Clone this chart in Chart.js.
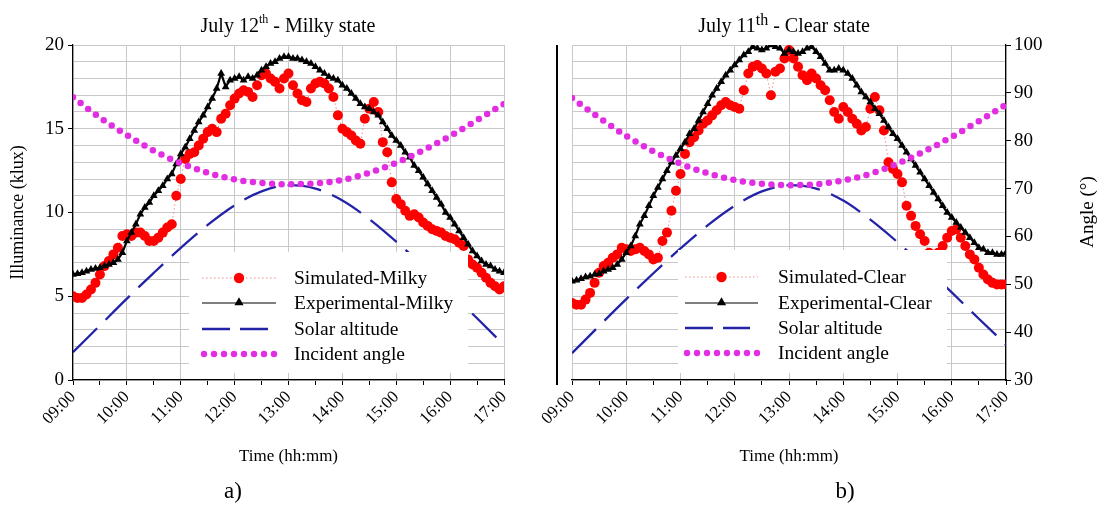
<!DOCTYPE html>
<html>
<head>
<meta charset="utf-8">
<script src="https://cdn.jsdelivr.net/npm/chart.js@4.4.1/dist/chart.umd.min.js"></script>
<style>
html,body{margin:0;padding:0;background:#fff;width:1104px;height:506px;overflow:hidden;font-family:"Liberation Serif","Times New Roman",serif;}
canvas{position:absolute;top:0;}
#c1{left:0;}
#c2{left:510px;}
.sub{position:absolute;top:477px;width:40px;text-align:center;font-size:23px;color:#000;line-height:28px;}
#divider{position:absolute;left:556px;top:45px;width:1.5px;height:340px;background:#000;}
</style>
</head>
<body>
<canvas id="c1" width="550" height="506" style="width:550px;height:506px"></canvas>
<canvas id="c2" width="594" height="506" style="width:594px;height:506px"></canvas>
<div id="divider"></div>
<div class="sub" style="left:213px">a)</div>
<div class="sub" style="left:825px">b)</div>
<script>
// ---------------- DATA ----------------
// Illuminance (klux), one reading every 5 minutes from 09:00 to 17:00
const STEP_MIN = 5;
const EXP_MILKY = [
  6.3,6.35,6.4,6.5,6.6,6.65,6.7,6.8,6.9,7.0,7.2,7.6,
  8.3,8.8,9.3,9.9,10.3,10.6,11.0,11.3,11.6,12.0,12.3,12.9,
  13.5,13.9,14.4,14.9,15.4,15.8,16.3,16.8,17.4,18.3,17.5,17.9,
  18.0,18.1,17.9,18.1,18.0,18.2,18.5,18.7,18.9,19.0,19.2,19.3,
  19.3,19.2,19.2,19.1,19.0,18.9,18.7,18.5,18.3,18.1,18.0,17.9,
  17.6,17.4,17.1,16.8,16.5,16.3,16.2,16.0,15.8,15.4,15.0,14.6,
  14.3,14.0,13.6,13.3,12.8,12.5,12.1,11.7,11.3,10.9,10.5,10.0,
  9.7,9.3,8.9,8.5,8.1,7.7,7.4,7.1,6.9,6.8,6.6,6.5,
  6.4
];
const SIM_MILKY = [
  5.0,4.9,4.9,5.1,5.4,5.8,6.3,6.8,7.1,7.5,7.9,8.6,
  8.7,8.6,8.8,8.8,8.6,8.3,8.3,8.5,8.8,9.1,9.3,11.0,
  12.0,13.2,13.5,13.6,14.0,14.4,14.8,15.0,14.8,15.6,15.9,16.4,
  16.8,17.1,17.3,17.2,16.9,17.6,18.2,18.3,18.0,17.8,17.4,18.0,
  18.3,17.6,17.1,16.7,16.6,17.4,17.7,17.8,17.7,17.4,16.9,15.8,
  15.0,14.8,14.6,14.3,14.1,15.6,16.2,16.6,16.0,14.2,13.6,11.8,
  10.8,10.5,10.1,9.8,9.9,9.7,9.4,9.2,9.0,8.9,8.8,8.6,
  8.5,8.4,8.2,8.0,7.2,6.9,6.7,6.4,6.1,5.8,5.6,5.4,
  5.6
];
const EXP_CLEAR = [
  5.9,5.95,6.05,6.15,6.2,6.3,6.35,6.5,6.6,6.7,6.9,7.2,
  7.6,8.0,8.6,9.3,9.8,10.4,11.0,11.5,12.0,12.5,13.0,13.4,
  13.8,14.2,14.7,15.0,15.5,16.0,16.5,17.0,17.4,17.8,18.2,18.5,
  18.8,19.1,19.4,19.6,19.9,19.8,19.7,19.8,20.0,19.9,19.8,19.5,
  19.7,19.6,19.5,19.6,19.8,19.9,19.6,19.3,18.9,18.5,18.5,18.6,
  18.5,18.3,18.0,17.6,17.2,16.9,16.6,16.2,15.9,15.5,15.1,14.7,
  14.4,14.0,13.6,13.2,12.8,12.4,12.0,11.6,11.2,10.8,10.4,10.0,
  9.7,9.4,9.1,8.8,8.5,8.2,7.9,7.8,7.6,7.6,7.5,7.5,
  7.6
];
const SIM_CLEAR = [
  4.6,4.5,4.5,4.8,5.2,5.8,6.4,6.8,7.0,7.3,7.5,7.9,
  7.8,7.7,7.8,7.9,7.7,7.5,7.2,7.3,8.3,8.8,10.1,11.3,
  12.3,13.5,14.2,14.5,14.9,15.3,15.5,15.8,16.1,16.4,16.6,16.4,
  16.3,16.2,17.3,18.3,18.7,18.8,18.6,18.3,17.0,18.4,18.6,19.2,
  19.7,19.2,18.7,18.2,17.9,18.3,18.0,17.6,17.3,16.7,16.0,15.6,
  16.3,16.0,15.6,15.3,14.9,15.1,16.2,16.9,16.1,14.9,13.0,12.6,
  12.3,11.8,10.4,9.8,9.2,8.7,8.3,7.6,7.4,7.6,8.0,8.5,
  8.9,9.0,8.5,8.0,7.5,7.2,6.7,6.3,6.0,5.8,5.7,5.7,
  5.7
];
// Angles (degrees), one value every 30 minutes from 09:00 to 17:00
const ANGLE_STEP_MIN = 30;
const ALT_MILKY = [35.8,41.4,47.0,52.4,57.6,62.4,66.5,69.4,70.7,70.0,67.5,63.6,58.9,53.8,48.4,42.9,37.3];
const INC_MILKY = [89.1,84.8,81.2,77.9,75.3,73.3,71.9,71.2,70.9,71.1,71.8,73.3,75.4,78.0,81.0,84.3,87.7];
const ALT_CLEAR = [35.6,41.3,46.9,52.3,57.5,62.3,66.4,69.4,70.7,70.0,67.5,63.5,58.8,53.7,48.3,42.8,37.4];
const INC_CLEAR = [88.9,84.8,81.0,77.8,75.2,73.2,71.8,71.0,70.7,70.9,71.7,73.1,75.2,77.8,80.8,84.1,87.5];
const HOUR_LABELS = ['09:00','10:00','11:00','12:00','13:00','14:00','15:00','16:00','17:00'];
const LUX_TICKS = [0,5,10,15,20];
const ANGLE_TICKS = [30,40,50,60,70,80,90,100];

// ---------------- HELPERS ----------------
const FONT = '"Liberation Serif", "Times New Roman", serif';
Chart.defaults.font.family = FONT;
Chart.defaults.color = '#000';

function toPoints(arr, stepMin) {
  return arr.map((v, i) => ({x: 9 + i * stepMin / 60, y: v}));
}
const isInt = v => Math.abs(v - Math.round(v)) < 1e-6;

const C_RED = '#ff0000', C_BLUE = '#2323a8', C_MAG = '#e22ee2', C_GRID = '#c8c8c8';

function datasets(alt, inc, exp, sim) {
  return [
    {label:'Incident angle', data: toPoints(inc, ANGLE_STEP_MIN), yAxisID:'y2',
      borderColor:C_MAG, borderWidth:6.5, borderDash:[0,9.6], borderCapStyle:'round',
      pointRadius:0, cubicInterpolationMode:'monotone', fill:false},
    {label:'Solar altitude', data: toPoints(alt, ANGLE_STEP_MIN), yAxisID:'y2',
      borderColor:C_BLUE, borderWidth:2.3, borderDash:[34,12],
      pointRadius:0, cubicInterpolationMode:'monotone', fill:false},
    {label:'Experimental', data: toPoints(exp, STEP_MIN), yAxisID:'y',
      borderColor:'#000', borderWidth:2.2, pointStyle:'triangle', pointRadius:4.5,
      pointBackgroundColor:'#000', pointBorderColor:'#000', pointBorderWidth:0, tension:0},
    {label:'Simulated', data: toPoints(sim, STEP_MIN), yAxisID:'y',
      borderColor:'#f08a8a', borderWidth:1, borderDash:[1.5,2.5], pointStyle:'circle', pointRadius:5,
      pointBackgroundColor:C_RED, pointBorderColor:C_RED, pointBorderWidth:0, tension:0}
  ];
}

function drawPt(ctx, style, r, x, y, color) {
  ctx.save();
  ctx.fillStyle = color;
  ctx.beginPath();
  if (style === 'circle') {
    ctx.arc(x, y, r, 0, Math.PI * 2);
  } else {
    ctx.moveTo(x, y - r * 1.15);
    ctx.lineTo(x + r * 1.1, y + r * 0.75);
    ctx.lineTo(x - r * 1.1, y + r * 0.75);
    ctx.closePath();
  }
  ctx.fill();
  ctx.restore();
}

function drawRich(ctx, cx, baseline, parts) {
  ctx.save();
  ctx.textBaseline = 'alphabetic';
  ctx.textAlign = 'left';
  ctx.fillStyle = '#000';
  let total = 0;
  parts.forEach(p => { ctx.font = p.s + 'px ' + FONT; p.w = ctx.measureText(p.t).width; total += p.w; });
  let x = cx - total / 2;
  parts.forEach(p => { ctx.font = p.s + 'px ' + FONT; ctx.fillText(p.t, x, baseline + (p.dy || 0)); x += p.w; });
  ctx.restore();
}

const decor = {
  id: 'decor',
  afterDatasetsDraw(chart, args, o) {
    const ctx = chart.ctx;
    const L = o.legend;
    ctx.save();
    ctx.fillStyle = '#fff';
    ctx.fillRect(L.x, L.y, L.w, L.h);
    const rows = L.rows;
    const xm = (L.x1 + L.x2) / 2;
    // Simulated
    ctx.save();
    ctx.strokeStyle = '#f08a8a'; ctx.lineWidth = 1; ctx.setLineDash([1.5,2.5]);
    ctx.beginPath(); ctx.moveTo(L.x1, rows[0]); ctx.lineTo(L.x2, rows[0]); ctx.stroke();
    ctx.restore();
    drawPt(ctx, 'circle', 5.2, xm, rows[0], C_RED);
    // Experimental
    ctx.save();
    ctx.strokeStyle = '#000'; ctx.lineWidth = 1.2;
    ctx.beginPath(); ctx.moveTo(L.x1, rows[1]); ctx.lineTo(L.x2, rows[1]); ctx.stroke();
    ctx.restore();
    drawPt(ctx, 'triangle', 4.2, xm, rows[1] - 1, '#000');
    // Solar altitude
    ctx.save();
    ctx.strokeStyle = C_BLUE; ctx.lineWidth = 2.4; ctx.setLineDash([28,10]);
    ctx.beginPath(); ctx.moveTo(L.x1, rows[2]); ctx.lineTo(L.x2 - 8, rows[2]); ctx.stroke();
    ctx.restore();
    // Incident angle
    ctx.save();
    ctx.fillStyle = C_MAG;
    for (let i = 0; i < 8; i++) {
      ctx.beginPath(); ctx.arc(L.x1 + 2 + i * 10, rows[3], 3.2, 0, Math.PI * 2); ctx.fill();
    }
    ctx.restore();
    ctx.font = L.font + 'px ' + FONT;
    ctx.fillStyle = '#000';
    ctx.textBaseline = 'middle';
    ctx.textAlign = 'left';
    L.labels.forEach((t, i) => ctx.fillText(t, L.tx, rows[i] + 1));
    ctx.restore();
  },
  afterDraw(chart, args, o) {
    const ctx = chart.ctx;
    drawRich(ctx, o.titleX, 32, o.title);
    if (o.rightTitle) {
      ctx.save();
      ctx.translate(o.rightTitle.x, o.rightTitle.y);
      ctx.rotate(-Math.PI / 2);
      ctx.font = o.rightTitle.s + 'px ' + FONT;
      ctx.fillStyle = '#000';
      ctx.textAlign = 'center';
      ctx.textBaseline = 'middle';
      ctx.fillText(o.rightTitle.t, 0, 0);
      ctx.restore();
    }
  }
};

function xScale() {
  return {
    type:'linear', min:9, max:17,
    ticks:{stepSize:0.5, autoSkip:false, maxRotation:45, minRotation:45, padding:2,
      font:{size:17}, color:'#000',
      callback: v => isInt(v) ? HOUR_LABELS[Math.round(v) - 9] : ''},
    grid:{color: c => (c.tick && isInt(c.tick.value)) ? C_GRID : 'rgba(0,0,0,0)',
      tickColor:'#000', tickLength:5, lineWidth:1},
    border:{color:'#000', width:1.2},
    title:{display:true, text:'Time (hh:mm)', font:{size:17}, padding:{top:0,bottom:0}, color:'#000'},
    afterFit: s => { s.height = 87; s.paddingLeft = 0; s.paddingRight = 0; }
  };
}

function makeChart(id, opts) {
  return new Chart(document.getElementById(id), {
    type:'line',
    data:{datasets: opts.datasets},
    options:{
      responsive:false, animation:false, devicePixelRatio:1, events:[],
      layout:{padding:opts.padding},
      scales:{x: xScale(), y: opts.y, y2: opts.y2},
      plugins:{legend:{display:false}, tooltip:{enabled:false}, title:{display:false},
        decor: opts.decor}
    },
    plugins:[decor]
  });
}

// ---------------- LEFT CHART (Milky) ----------------
makeChart('c1', {
  datasets: datasets(ALT_MILKY, INC_MILKY, EXP_MILKY, SIM_MILKY),
  padding:{left:0, right:46, top:45, bottom:39},
  y:{type:'linear', position:'left', min:0, max:20,
    ticks:{stepSize:1, autoSkip:false, padding:4, font:{size:19}, color:'#000',
      callback: v => LUX_TICKS.includes(v) ? String(v) : ''},
    grid:{color:C_GRID, tickLength:5, tickColor: c => (c.tick && LUX_TICKS.includes(c.tick.value)) ? '#000' : 'rgba(0,0,0,0)'},
    border:{color:'#000', width:1.2},
    title:{display:true, text:'Illuminance (klux)', font:{size:18}, padding:{top:7,bottom:0}, color:'#000'},
    afterFit: s => { s.width = 73; s.paddingTop = 0; s.paddingBottom = 0; }
  },
  y2:{type:'linear', position:'right', min:30, max:100, display:false},
  decor:{
    titleX: 288, title:[{t:'July 12', s:20}, {t:'th', s:12, dy:-9}, {t:' - Milky state', s:20}],
    legend:{x:189, y:252, w:279, h:121, x1:202, x2:276, tx:294, font:19.5,
      rows:[278,303,329,354],
      labels:['Simulated-Milky','Experimental-Milky','Solar altitude','Incident angle']}
  }
});

// ---------------- RIGHT CHART (Clear) ----------------
// canvas origin is at page x = 510
makeChart('c2', {
  datasets: datasets(ALT_CLEAR, INC_CLEAR, EXP_CLEAR, SIM_CLEAR),
  padding:{left:0, right:0, top:45, bottom:39},
  y:{type:'linear', position:'left', min:0, max:20,
    ticks:{stepSize:1, autoSkip:false, display:false},
    grid:{color:C_GRID, drawTicks:false},
    border:{display:false},
    afterFit: s => { s.width = 62; s.paddingTop = 0; s.paddingBottom = 0; }
  },
  y2:{type:'linear', position:'right', min:30, max:100,
    ticks:{stepSize:10, autoSkip:false, padding:3, font:{size:19}, color:'#000'},
    grid:{drawOnChartArea:false, tickLength:5, tickColor:'#000'},
    border:{color:'#000', width:1.2},
    afterFit: s => { s.width = 98; s.paddingTop = 0; s.paddingBottom = 0; }
  },
  decor:{
    titleX: 274, title:[{t:'July 11', s:20}, {t:'th', s:16, dy:-7}, {t:' - Clear state', s:20}],
    rightTitle:{t:'Angle (°)', s:19, x:578, y:212},
    legend:{x:168, y:250, w:269, h:123, x1:175, x2:248, tx:268, font:19.5,
      rows:[277,303,328,353],
      labels:['Simulated-Clear','Experimental-Clear','Solar altitude','Incident angle']}
  }
});
</script>
</body>
</html>
